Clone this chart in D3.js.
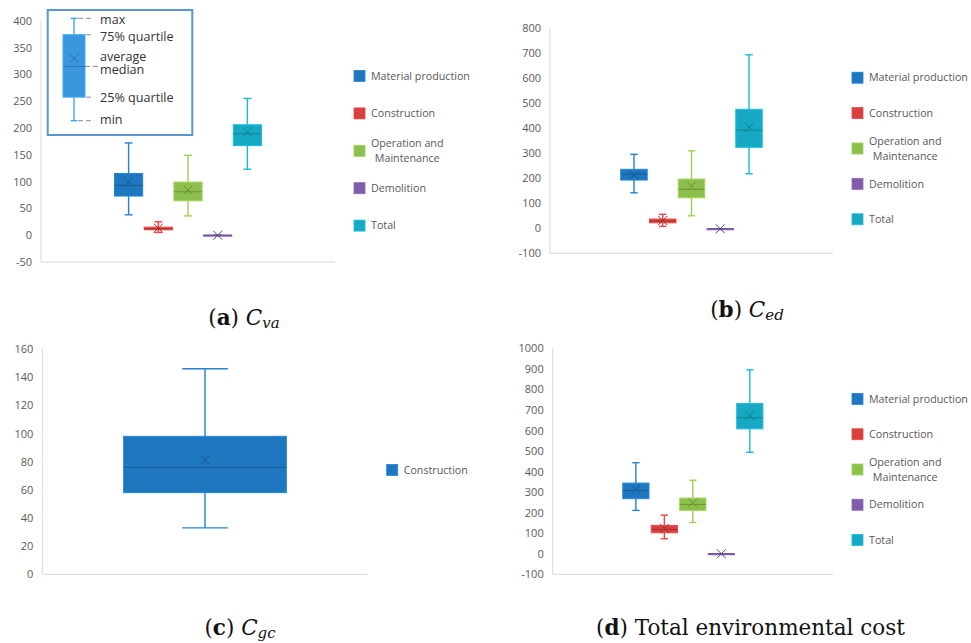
<!DOCTYPE html>
<html>
<head>
<meta charset="utf-8">
<script src="https://cdn.jsdelivr.net/npm/d3@7"></script>
<style>
  body { margin: 0; background: #fff; }
  svg { display: block; }
</style>
</head>
<body>
<div id="chart"></div>
<script>
// series shared by the panels
const series = ['Material production', 'Construction', 'Operation and Maintenance', 'Demolition', 'Total'];
const seriesColors = ['#1f77bf', '#d8403f', '#8dbf4c', '#7f5da8', '#17a9c4'];
const legendLines = [['Material production'], ['Construction'], ['Operation and', 'Maintenance'], ['Demolition'], ['Total']];

// each row: [min, q1, median, q3, max, mean]
const cvaStats = [
  [38, 73, 93, 115, 172, 99],
  [5, 10, 12, 15, 25, 13],
  [36, 64, 81, 99, 149, 84],
  [0, 0, 0, 0, 0, 0],
  [123, 167, 189, 206, 255, 192]
];
const cedStats = [
  [142, 193, 217, 236, 296, 213],
  [8, 22, 29, 37, 56, 31],
  [50, 122, 156, 197, 310, 169],
  [-2, -2, -2, -2, -2, -2],
  [218, 324, 393, 476, 694, 405]
];
const cgcStats = [
  [33, 58, 76, 98, 146, 81]
];
const totalStats = [
  [211, 268, 308, 344, 443, 312],
  [73, 102, 118, 138, 188, 123],
  [152, 211, 240, 271, 358, 248],
  [0, 0, 0, 0, 0, 0],
  [494, 608, 662, 731, 895, 672]
];

const cvaTicks = [-50, 0, 50, 100, 150, 200, 250, 300, 350, 400];
const cedTicks = [-100, 0, 100, 200, 300, 400, 500, 600, 700, 800];
const cgcTicks = [0, 20, 40, 60, 80, 100, 120, 140, 160];
const totalTicks = [-100, 0, 100, 200, 300, 400, 500, 600, 700, 800, 900, 1000];

// schematic key in panel (a)
const keyLabels = ['max', '75% quartile', 'average', 'median', '25% quartile', 'min'];
const keyStat = [0, 23, 53, 84, 100, 61];

const axisColor = '#d9d9d9';
const textColor = '#595959';

const svg = d3.select('#chart').append('svg')
  .attr('width', 971)
  .attr('height', 643)
  .style('background', '#fff');

function drawBox(g, s, left, bw, y, color, capFrac) {
  const [mn, q1, md, q3, mx, mean] = s;
  const cx = left + bw / 2;
  const cap = bw * capFrac / 2;
  const whisk = d3.color(color).brighter(0.25).formatHex();

  [[y(mx), y(q3)], [y(q1), y(mn)]].forEach(p => {
    g.append('line')
      .attr('x1', cx).attr('x2', cx)
      .attr('y1', p[0]).attr('y2', p[1])
      .attr('stroke', whisk).attr('stroke-width', 1.4);
  });
  [mx, mn].forEach(v => {
    g.append('line')
      .attr('x1', cx - cap).attr('x2', cx + cap)
      .attr('y1', y(v)).attr('y2', y(v))
      .attr('stroke', whisk).attr('stroke-width', 1.4);
  });

  g.append('rect')
    .attr('x', left)
    .attr('y', y(q3))
    .attr('width', bw)
    .attr('height', Math.max(1, y(q1) - y(q3)))
    .attr('fill', color)
    .attr('stroke', d3.color(color).brighter(0.35).formatHex())
    .attr('stroke-width', 1);

  g.append('line')
    .attr('x1', left).attr('x2', left + bw)
    .attr('y1', y(md)).attr('y2', y(md))
    .attr('stroke', d3.color(color).darker(0.7).formatHex())
    .attr('stroke-width', 1);

  const m = 4.5;
  const my = y(mean);
  const dark = d3.color(color).darker(0.8).formatHex();
  g.append('line').attr('x1', cx - m).attr('y1', my - m).attr('x2', cx + m).attr('y2', my + m)
    .attr('stroke', dark).attr('stroke-width', 1);
  g.append('line').attr('x1', cx - m).attr('y1', my + m).attr('x2', cx + m).attr('y2', my - m)
    .attr('stroke', dark).attr('stroke-width', 1);
}

function drawLegend(g, lines, colors, x, y0, step) {
  lines.forEach((ls, i) => {
    const cy = y0 + i * step;
    g.append('rect')
      .attr('x', x).attr('y', cy - 5.5)
      .attr('width', 11).attr('height', 11)
      .attr('fill', colors[i])
      .attr('stroke', d3.color(colors[i]).brighter(0.3).formatHex())
      .attr('stroke-width', 0.8);
    const texts = ls.map((t, j) => g.append('text')
      .attr('x', x + 17)
      .attr('y', cy + (j - (ls.length - 1) / 2) * 15)
      .attr('dy', '0.35em')
      .attr('font-family', 'Open Sans')
      .attr('font-size', 10.7)
      .attr('fill', textColor)
      .text(t));
    if (texts.length > 1) {
      const w0 = texts[0].node().getComputedTextLength();
      texts.forEach(t => {
        const w = t.node().getComputedTextLength();
        t.attr('x', x + 17 + (w0 - w) / 2);
      });
    }
  });
}

function drawCaption(c) {
  const t = svg.append('text')
    .attr('x', c.x).attr('y', c.y)
    .attr('text-anchor', 'middle')
    .attr('font-family', 'DejaVu Serif')
    .attr('font-size', 21.5)
    .attr('fill', '#111');
  t.append('tspan').text('(');
  t.append('tspan').attr('font-weight', 'bold').text(c.letter);
  t.append('tspan').text(') ');
  if (c.sym) {
    t.append('tspan').attr('font-style', 'italic').text(c.sym);
    t.append('tspan').attr('font-style', 'italic').attr('font-size', 15).attr('dy', 3).text(c.sub);
  } else {
    t.append('tspan').text(c.text);
  }
}

function drawPanel(p) {
  const g = svg.append('g');
  const y = d3.scaleLinear().domain(p.domain).range(p.yRange);
  const w = p.x1 - p.x0;
  const x = d3.scaleBand()
    .domain(p.names)
    .range([p.x0 + w * 0.25, p.x1 - w * 0.25])
    .paddingInner(p.pad);

  // axis lines
  g.append('line')
    .attr('x1', p.x0).attr('x2', p.x0)
    .attr('y1', y(p.domain[1])).attr('y2', y(p.domain[0]))
    .attr('stroke', axisColor).attr('stroke-width', 1);
  g.append('line')
    .attr('x1', p.x0).attr('x2', p.x1)
    .attr('y1', y(p.domain[0])).attr('y2', y(p.domain[0]))
    .attr('stroke', axisColor).attr('stroke-width', 1);

  const axis = d3.axisLeft(y)
    .tickValues(p.ticks)
    .tickSize(0)
    .tickPadding(9)
    .tickFormat(d => String(d));
  const ax = g.append('g')
    .attr('transform', 'translate(' + p.x0 + ',0)')
    .call(axis);
  ax.select('.domain').remove();
  ax.selectAll('text')
    .attr('font-family', 'Open Sans')
    .attr('font-size', 11)
    .attr('fill', textColor);

  p.stats.forEach((s, i) => {
    drawBox(g, s, x(p.names[i]), x.bandwidth(), y, p.colors[i], 0.28);
  });

  drawLegend(g, p.legend, p.colors, p.legendX, p.legendY, p.legendStep);
  drawCaption(p.caption);
  return g;
}

const panels = [
  {
    stats: cvaStats, names: series, colors: seriesColors, legend: legendLines, ticks: cvaTicks,
    domain: [-50, 400], yRange: [262, 20.7], x0: 41, x1: 335, pad: 0.05,
    legendX: 354, legendY: 76, legendStep: 37.4,
    caption: {x: 244, y: 325, letter: 'a', sym: 'C', sub: 'va'}
  },
  {
    stats: cedStats, names: series, colors: seriesColors, legend: legendLines, ticks: cedTicks,
    domain: [-100, 800], yRange: [253.3, 28.3], x0: 550, x1: 833, pad: 0.08,
    legendX: 852, legendY: 77.7, legendStep: 35.4,
    caption: {x: 747, y: 317, letter: 'b', sym: 'C', sub: 'ed'}
  },
  {
    stats: cgcStats, names: ['Construction'], colors: [seriesColors[0]], legend: [['Construction']], ticks: cgcTicks,
    domain: [0, 160], yRange: [574.3, 349], x0: 42.3, x1: 367.7, pad: 0,
    legendX: 386.7, legendY: 470, legendStep: 0,
    caption: {x: 240, y: 635, letter: 'c', sym: 'C', sub: 'gc'}
  },
  {
    stats: totalStats, names: series, colors: seriesColors, legend: legendLines, ticks: totalTicks,
    domain: [-100, 1000], yRange: [574.3, 348.3], x0: 552.7, x1: 833, pad: 0.08,
    legendX: 852, legendY: 399, legendStep: 35.25,
    caption: {x: 750.5, y: 635, letter: 'd', text: 'Total environmental cost'}
  }
];

panels.forEach(drawPanel);

// key box over panel (a)
const key = svg.append('g');
key.append('rect')
  .attr('x', 47.7).attr('y', 10)
  .attr('width', 144.6).attr('height', 125)
  .attr('fill', '#fff')
  .attr('stroke', '#5b97cc')
  .attr('stroke-width', 2);

const keyY = d3.scaleLinear().domain([0, 100]).range([120.7, 18.3]);
drawBox(key, keyStat, 63, 22, keyY, '#3a97dd', 0.3);

const dash = '#8a86a8';
const leaders = [
  [78, 94, keyY(keyStat[4])],
  [86, 94, keyY(keyStat[3])],
  [85, 98, keyY(keyStat[2])],
  [86, 94, keyY(keyStat[1])],
  [78, 94, keyY(keyStat[0])]
];
leaders.forEach(l => {
  key.append('line')
    .attr('x1', l[0]).attr('x2', l[1])
    .attr('y1', l[2]).attr('y2', l[2])
    .attr('stroke', dash).attr('stroke-width', 1)
    .attr('stroke-dasharray', '5,3');
});

const keyLabelY = [20, 36.7, 56.5, 69.5, 97.7, 120];
key.selectAll('text.key')
  .data(keyLabels)
  .enter().append('text')
  .attr('class', 'key')
  .attr('x', 100)
  .attr('y', (d, i) => keyLabelY[i])
  .attr('dy', '0.35em')
  .attr('font-family', 'Open Sans')
  .attr('font-size', 12.6)
  .attr('fill', '#333')
  .text(d => d);
</script>
</body>
</html>
